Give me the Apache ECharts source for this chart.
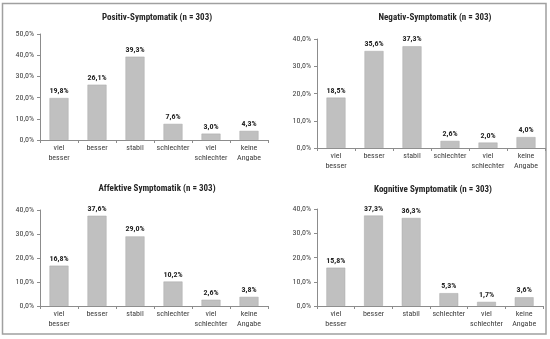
<!DOCTYPE html>
<html><head><meta charset="utf-8">
<script src="https://cdn.jsdelivr.net/npm/echarts@6/dist/echarts.min.js"></script>
<style>html,body{margin:0;padding:0;background:#fff}#c{width:550px;height:339px}</style>
</head><body><div id="c"></div>
<script>
const categories = ["viel\nbesser", "besser", "stabil", "schlechter", "viel\nschlechter", "keine\nAngabe"];
const titles = ["Positiv-Symptomatik (n = 303)", "Negativ-Symptomatik (n = 303)", "Affektive Symptomatik (n = 303)", "Kognitive Symptomatik (n = 303)"];
const positiv = [19.8, 26.1, 39.3, 7.6, 3.0, 4.3];
const negativ = [18.5, 35.6, 37.3, 2.6, 2.0, 4.0];
const affektiv = [16.8, 37.6, 29.0, 10.2, 2.6, 3.8];
const kognitiv = [15.8, 37.3, 36.3, 5.3, 1.7, 3.6];
const yMax = [50, 40, 40, 40];

const FONT = "'Liberation Sans Narrow', 'Roboto Condensed', 'Liberation Sans', sans-serif";
const fmt = v => v.toFixed(1).replace('.', ',') + '%';
const grids = [
  {left: 40, right: 282, top: 34, bottom: 199},
  {left: 317, right: 5, top: 39, bottom: 191},
  {left: 40, right: 282, top: 210, bottom: 33},
  {left: 317, right: 7, top: 209, bottom: 33}
];
const titlePos = [[152, 8], [430, 8], [152, 179], [428, 180]];
const data = [positiv, negativ, affektiv, kognitiv];
const axisColor = '#8c8c8c';

const option = {
  animation: false,
  textStyle: {fontFamily: FONT},
  title: titles.map((t, i) => ({
    text: t, left: titlePos[i][0], top: titlePos[i][1], textAlign: 'center',
    textStyle: {fontFamily: FONT, fontSize: 9, fontWeight: 'bold', color: '#262626'}
  })),
  grid: grids,
  xAxis: grids.map((g, i) => ({
    type: 'category', gridIndex: i, data: categories,
    axisLine: {lineStyle: {color: axisColor}},
    axisTick: {show: true, length: 3, lineStyle: {color: axisColor}},
    axisLabel: {fontFamily: FONT, fontSize: 8, color: '#404040', margin: 3, lineHeight: 10, interval: 0}
  })),
  yAxis: grids.map((g, i) => ({
    type: 'value', gridIndex: i, min: 0, max: yMax[i], interval: 10,
    splitLine: {show: false},
    axisLine: {show: true, lineStyle: {color: axisColor}},
    axisTick: {show: true, length: 3, lineStyle: {color: axisColor}},
    axisLabel: {fontFamily: FONT, fontSize: 8, color: '#404040', margin: 6, formatter: v => v.toFixed(1).replace('.', ',') + '%'}
  })),
  series: data.map((d, i) => ({
    type: 'bar', xAxisIndex: i, yAxisIndex: i, data: d, barWidth: '50%',
    itemStyle: {color: '#c0c0c0', borderColor: '#a8a8a8', borderWidth: 0.5},
    label: {show: true, position: 'top', distance: 3, fontFamily: FONT, fontSize: 8, fontWeight: 'bold', color: '#262626', formatter: p => fmt(p.value)}
  })),
  graphic: [{
    type: 'rect', shape: {x: 2.5, y: 3.5, width: 543.5, height: 330.5},
    style: {fill: null, stroke: '#a0a0a0', lineWidth: 1.5}, silent: true
  }]
};
const chart = echarts.init(document.getElementById('c'), null, {renderer: 'canvas'});
chart.setOption(option);
</script></body></html>
